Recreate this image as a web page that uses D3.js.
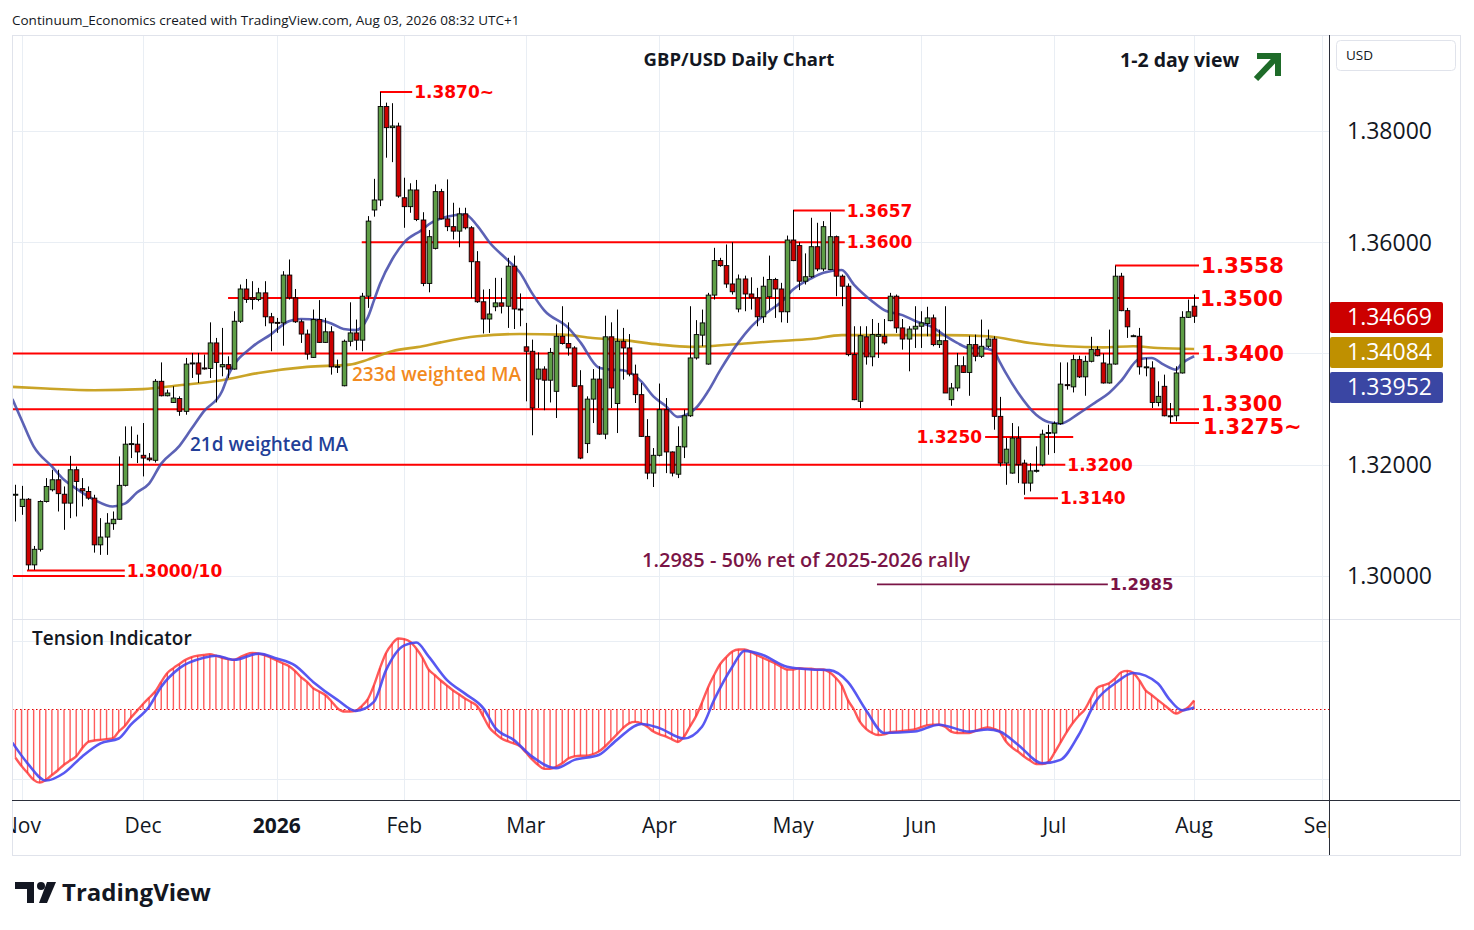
<!DOCTYPE html>
<html>
<head>
<meta charset="utf-8">
<script src="https://cdn.jsdelivr.net/npm/d3@7/dist/d3.min.js"></script>
<style>
  body { margin: 0; background: #fff; }
  svg text { font-family: "Open Sans", "Noto Sans", sans-serif; }
  svg text.level { font-family: "DejaVu Sans", sans-serif; font-weight: bold; }
</style>
</head>
<body>
<div id="chart"></div>
<script>
// GBP/USD daily candles, first bar = Fri 31 Oct 2025, last bar = Mon 3 Aug 2026
const openP = [1.3146,1.3125,1.3138,1.3020,1.3048,1.3134,1.3155,1.3173,1.3147,1.3131,1.3191,1.3157,1.3152,1.3140,1.3056,1.3070,1.3094,1.3102,1.3163,1.3237,
  1.3237,1.3217,1.3212,1.3208,1.3350,1.3324,1.3312,1.3319,1.3296,1.3382,1.3383,1.3374,1.3373,1.3419,1.3376,1.3380,1.3372,1.3458,1.3516,1.3500,
  1.3497,1.3509,1.3466,1.3456,1.3455,1.3541,1.3500,1.3457,1.3435,1.3393,1.3461,1.3420,1.3439,1.3376,1.3342,1.3422,1.3437,1.3424,1.3503,1.3658,
  1.3676,1.3844,1.3806,1.3809,1.3680,1.3664,1.3694,1.3640,1.3526,1.3589,1.3691,1.3642,1.3628,1.3620,1.3651,1.3626,1.3565,1.3493,1.3462,1.3484,
  1.3491,1.3485,1.3557,1.3480,1.3412,1.3404,1.3354,1.3372,1.3352,1.3332,1.3431,1.3418,1.3410,1.3342,1.3238,1.3318,1.3354,1.3255,1.3430,1.3310,
  1.3422,1.3410,1.3363,1.3326,1.3251,1.3185,1.3217,1.3299,1.3223,1.3183,1.3232,1.3288,1.3392,1.3433,1.3381,1.3505,1.3567,1.3558,1.3525,1.3480,
  1.3534,1.3507,1.3500,1.3466,1.3502,1.3533,1.3516,1.3475,1.3604,1.3594,1.3530,1.3538,1.3592,1.3552,1.3551,1.3610,1.3539,1.3521,1.3398,1.3314,
  1.3430,1.3394,1.3431,1.3431,1.3459,1.3503,1.3446,1.3426,1.3444,1.3449,1.3454,1.3464,1.3416,1.3423,1.3317,1.3338,1.3378,1.3366,1.3416,1.3395,
  1.3413,1.3426,1.3287,1.3203,1.3185,1.3248,1.3203,1.3167,1.3189,1.3200,1.3257,1.3257,1.3274,1.3344,1.3340,1.3389,1.3358,1.3386,1.3407,1.3383,
  1.3347,1.3381,1.3539,1.3477,1.3432,1.3431,1.3376,1.3374,1.3312,1.3341,1.3288,1.3288,1.3365,1.3465,1.3485];
const highP = [1.3164,1.3162,1.3140,1.3054,1.3136,1.3176,1.3191,1.3191,1.3161,1.3216,1.3197,1.3176,1.3161,1.3146,1.3104,1.3113,1.3116,1.3215,1.3269,1.3269,
  1.3254,1.3275,1.3221,1.3354,1.3384,1.3335,1.3341,1.3323,1.3392,1.3401,1.3401,1.3398,1.3456,1.3428,1.3446,1.3395,1.3476,1.3524,1.3534,1.3530,
  1.3518,1.3530,1.3473,1.3464,1.3548,1.3569,1.3516,1.3461,1.3443,1.3479,1.3496,1.3464,1.3449,1.3389,1.3425,1.3492,1.3461,1.3509,1.3647,1.3714,
  1.3870,1.3851,1.3850,1.3815,1.3716,1.3706,1.3712,1.3654,1.3622,1.3704,1.3696,1.3713,1.3671,1.3662,1.3662,1.3629,1.3584,1.3515,1.3516,1.3536,
  1.3536,1.3572,1.3576,1.3508,1.3455,1.3425,1.3402,1.3377,1.3410,1.3452,1.3485,1.3456,1.3413,1.3370,1.3323,1.3372,1.3377,1.3468,1.3456,1.3479,
  1.3446,1.3435,1.3380,1.3347,1.3282,1.3230,1.3346,1.3320,1.3224,1.3269,1.3299,1.3485,1.3460,1.3479,1.3509,1.3590,1.3572,1.3596,1.3600,1.3542,
  1.3540,1.3537,1.3518,1.3538,1.3576,1.3536,1.3527,1.3612,1.3658,1.3600,1.3580,1.3644,1.3635,1.3638,1.3654,1.3612,1.3542,1.3526,1.3449,1.3449,
  1.3449,1.3462,1.3455,1.3462,1.3509,1.3506,1.3462,1.3449,1.3485,1.3476,1.3484,1.3470,1.3443,1.3485,1.3347,1.3401,1.3395,1.3432,1.3434,1.3461,
  1.3443,1.3431,1.3322,1.3248,1.3275,1.3269,1.3209,1.3203,1.3233,1.3263,1.3272,1.3278,1.3384,1.3384,1.3398,1.3396,1.3396,1.3430,1.3413,1.3400,
  1.3443,1.3558,1.3545,1.3482,1.3434,1.3446,1.3392,1.3386,1.3350,1.3362,1.3311,1.3377,1.3476,1.3497,1.3506];
const lowP = [1.3098,1.3110,1.3011,1.3011,1.3044,1.3132,1.3152,1.3116,1.3083,1.3104,1.3107,1.3125,1.3137,1.3042,1.3038,1.3038,1.3083,1.3101,1.3161,1.3212,
  1.3203,1.3179,1.3206,1.3204,1.3323,1.3323,1.3311,1.3288,1.3290,1.3356,1.3347,1.3371,1.3356,1.3312,1.3359,1.3356,1.3371,1.3455,1.3491,1.3479,
  1.3494,1.3449,1.3404,1.3437,1.3414,1.3497,1.3455,1.3419,1.3389,1.3392,1.3419,1.3419,1.3362,1.3365,1.3341,1.3413,1.3406,1.3404,1.3482,1.3646,
  1.3665,1.3752,1.3744,1.3680,1.3626,1.3653,1.3638,1.3521,1.3510,1.3587,1.3641,1.3620,1.3605,1.3591,1.3623,1.3500,1.3491,1.3436,1.3437,1.3476,
  1.3472,1.3446,1.3444,1.3449,1.3314,1.3253,1.3302,1.3298,1.3312,1.3284,1.3416,1.3396,1.3340,1.3210,1.3221,1.3275,1.3254,1.3246,1.3302,1.3257,
  1.3353,1.3359,1.3311,1.3250,1.3174,1.3160,1.3215,1.3185,1.3179,1.3176,1.3212,1.3286,1.3389,1.3413,1.3380,1.3497,1.3556,1.3518,1.3506,1.3474,
  1.3476,1.3479,1.3449,1.3455,1.3478,1.3464,1.3456,1.3455,1.3566,1.3514,1.3524,1.3536,1.3548,1.3548,1.3550,1.3503,1.3485,1.3395,1.3316,1.3302,
  1.3380,1.3377,1.3392,1.3416,1.3458,1.3437,1.3407,1.3368,1.3410,1.3410,1.3431,1.3413,1.3410,1.3329,1.3306,1.3332,1.3365,1.3324,1.3386,1.3392,
  1.3410,1.3263,1.3197,1.3164,1.3184,1.3167,1.3146,1.3152,1.3186,1.3197,1.3218,1.3221,1.3272,1.3335,1.3330,1.3356,1.3324,1.3384,1.3395,1.3346,
  1.3346,1.3380,1.3476,1.3428,1.3430,1.3362,1.3359,1.3302,1.3305,1.3287,1.3275,1.3278,1.3364,1.3464,1.3455];
const closeP = [1.3147,1.3138,1.3020,1.3048,1.3134,1.3161,1.3173,1.3148,1.3131,1.3191,1.3170,1.3153,1.3140,1.3056,1.3070,1.3095,1.3102,1.3163,1.3237,1.3238,
  1.3223,1.3212,1.3209,1.3350,1.3324,1.3329,1.3320,1.3296,1.3381,1.3383,1.3363,1.3373,1.3419,1.3384,1.3380,1.3372,1.3458,1.3516,1.3497,1.3497,
  1.3509,1.3466,1.3455,1.3455,1.3541,1.3500,1.3457,1.3435,1.3399,1.3461,1.3420,1.3439,1.3376,1.3377,1.3422,1.3437,1.3424,1.3503,1.3638,1.3676,
  1.3844,1.3806,1.3809,1.3683,1.3664,1.3694,1.3641,1.3526,1.3610,1.3691,1.3642,1.3628,1.3620,1.3651,1.3626,1.3565,1.3493,1.3462,1.3471,1.3491,
  1.3485,1.3557,1.3480,1.3479,1.3404,1.3302,1.3372,1.3352,1.3402,1.3431,1.3418,1.3410,1.3341,1.3212,1.3318,1.3354,1.3255,1.3430,1.3338,1.3422,
  1.3410,1.3363,1.3326,1.3251,1.3185,1.3217,1.3299,1.3223,1.3185,1.3233,1.3288,1.3392,1.3434,1.3455,1.3505,1.3567,1.3558,1.3525,1.3511,1.3534,
  1.3507,1.3500,1.3466,1.3521,1.3533,1.3516,1.3475,1.3604,1.3567,1.3530,1.3538,1.3592,1.3552,1.3628,1.3610,1.3539,1.3521,1.3398,1.3317,1.3432,
  1.3394,1.3434,1.3434,1.3419,1.3503,1.3446,1.3426,1.3444,1.3449,1.3455,1.3464,1.3416,1.3423,1.3329,1.3338,1.3378,1.3366,1.3416,1.3395,1.3413,
  1.3426,1.3287,1.3203,1.3228,1.3248,1.3200,1.3167,1.3189,1.3190,1.3255,1.3258,1.3274,1.3345,1.3343,1.3389,1.3358,1.3386,1.3407,1.3396,1.3347,
  1.3381,1.3539,1.3477,1.3448,1.3432,1.3376,1.3376,1.3312,1.3323,1.3288,1.3288,1.3365,1.3465,1.3475,1.3467];

// moving averages at bar numbers
const wma21Bars = [-0.5,1,3,6,8,10,13,16,18,20,22,24,27,29,31,34,35,39,42,45,47,50,52,54,56,58,59,60,62,64,67,68,71,74,76,78,81,83,85,87,91,93,96,98,100,103,105,107,109,112,114,116,119,121,124,126,128,131,133,136,138,141,143,146,148,151,153,155,157,159,161,162,163,165,168,170,172,175,178,180,182,185,187,189,191,192,194];
const wma21 = [1.3318,1.3281,1.3233,1.3197,1.3173,1.3157,1.3137,1.3125,1.3130,1.3150,1.3166,1.3202,1.3234,1.3265,1.3296,1.3332,1.3360,1.3412,1.3434,1.3458,1.3462,1.3460,1.3454,1.3444,1.3442,1.3465,1.3495,1.3525,1.3569,1.3600,1.3623,1.3632,1.3646,1.3650,1.3630,1.3600,1.3568,1.3546,1.3509,1.3478,1.3446,1.3420,1.3375,1.3371,1.3370,1.3350,1.3323,1.3306,1.3286,1.3302,1.3332,1.3370,1.3420,1.3447,1.3476,1.3492,1.3515,1.3535,1.3545,1.3550,1.3524,1.3494,1.3478,1.3469,1.3459,1.3447,1.3432,1.3419,1.3410,1.3410,1.3405,1.3385,1.3365,1.3330,1.3290,1.3277,1.3274,1.3292,1.3314,1.3329,1.3351,1.3390,1.3392,1.3380,1.3371,1.3382,1.3395];
const wma233Bars = [-0.5,5,13,21,27,34,40,48,55,58,62,67,70,76,83,90,95,100,106,111,114,120,125,131,136,144,153,160,167,173,179,184,188,194];
const wma233 = [1.3340,1.3337,1.3334,1.3336,1.3343,1.3352,1.3365,1.3376,1.3380,1.3389,1.3404,1.3413,1.3420,1.3431,1.3435,1.3434,1.3428,1.3424,1.3416,1.3412,1.3413,1.3418,1.3422,1.3426,1.3433,1.3433,1.3433,1.3431,1.3419,1.3413,1.3411,1.3413,1.3410,1.3408];

// tension indicator: fast line (one value per bar) and slow line
const tensionFast = [-0.70,-0.82,-0.92,-1.02,-1.06,-1.02,-0.95,-0.88,-0.80,-0.74,-0.68,-0.56,-0.47,-0.45,-0.44,-0.43,-0.42,-0.32,-0.24,-0.12,
  -0.02,0.08,0.17,0.26,0.40,0.53,0.60,0.66,0.72,0.76,0.78,0.79,0.80,0.78,0.75,0.73,0.72,0.76,0.80,0.82,
  0.81,0.79,0.75,0.71,0.67,0.63,0.56,0.47,0.40,0.31,0.26,0.21,0.12,0.02,-0.03,-0.03,-0.02,0.05,0.15,0.35,
  0.60,0.82,0.95,1.03,1.02,0.98,0.88,0.75,0.58,0.50,0.42,0.35,0.28,0.22,0.16,0.11,0.05,-0.10,-0.26,-0.35,
  -0.42,-0.46,-0.49,-0.53,-0.62,-0.72,-0.80,-0.86,-0.86,-0.83,-0.78,-0.71,-0.68,-0.67,-0.67,-0.65,-0.61,-0.54,-0.45,-0.36,
  -0.27,-0.20,-0.18,-0.20,-0.25,-0.32,-0.36,-0.39,-0.43,-0.47,-0.40,-0.25,-0.10,0.10,0.32,0.50,0.66,0.76,0.84,0.87,
  0.87,0.84,0.79,0.75,0.71,0.67,0.62,0.58,0.58,0.60,0.59,0.59,0.58,0.58,0.54,0.46,0.35,0.14,0.00,-0.18,
  -0.28,-0.34,-0.37,-0.36,-0.33,-0.32,-0.31,-0.30,-0.29,-0.26,-0.23,-0.22,-0.22,-0.25,-0.32,-0.34,-0.34,-0.34,-0.31,-0.28,
  -0.26,-0.28,-0.32,-0.46,-0.55,-0.61,-0.68,-0.74,-0.79,-0.79,-0.76,-0.63,-0.48,-0.33,-0.20,-0.09,0.00,0.16,0.31,0.35,
  0.38,0.45,0.54,0.56,0.53,0.42,0.28,0.21,0.14,0.07,0.00,-0.06,-0.02,0.03,0.13];
const tensionSlowBars = [-0.5,2,5,8,11,14,17,19,22,24,27,31,33,36,40,43,46,49,53,56,59,61,64,66,68,71,74,77,79,82,85,89,92,96,99,103,106,110,113,115,118,120,123,127,131,134,137,140,143,148,152,157,160,162,165,169,172,175,178,181,184,188,190,192,194];
const tensionSlow = [-0.48,-0.78,-1.03,-0.92,-0.68,-0.49,-0.42,-0.22,0.04,0.33,0.60,0.75,0.78,0.72,0.81,0.74,0.64,0.40,0.14,-0.02,0.11,0.57,0.93,0.97,0.77,0.43,0.23,0.02,-0.27,-0.44,-0.68,-0.85,-0.73,-0.66,-0.44,-0.21,-0.27,-0.42,-0.25,0.14,0.62,0.85,0.79,0.62,0.58,0.57,0.40,-0.01,-0.34,-0.32,-0.22,-0.32,-0.29,-0.32,-0.51,-0.78,-0.73,-0.37,0.14,0.38,0.53,0.38,0.14,-0.01,0.03];

// support / resistance annotations
const levelValues = [1.3870, 1.3657, 1.3600, 1.3558, 1.3500, 1.3400, 1.3300, 1.3275, 1.3250, 1.3200, 1.3140, 1.3010, 1.3000, 1.2985];
const levelLabels = ["1.3870~", "1.3657", "1.3600", "1.3558", "1.3500", "1.3400", "1.3300", "1.3275~", "1.3250", "1.3200", "1.3140", "1.3000/10", "", "1.2985"];

const priceTicks = [1.30, 1.32, 1.34, 1.36, 1.38];
const lastValues = [1.34669, 1.34084, 1.33952];

window.addEventListener('load', drawChart);

function drawChart() {
  const W = 1474, H = 930;
  const left = 12, right = 1329, top = 35, paneSplit = 619, axisTop = 800, bottom = 855, frameRight = 1460;

  // trading calendar (weekdays, no Christmas / New Year bar)
  const days = [];
  for (let d = new Date(Date.UTC(2025, 9, 31)); d <= new Date(Date.UTC(2026, 8, 1)); d.setUTCDate(d.getUTCDate() + 1)) {
    const wd = d.getUTCDay();
    const md = d.toISOString().slice(5, 10);
    if (wd === 0 || wd === 6 || md === "12-25" || md === "01-01") continue;
    days.push(new Date(d));
  }

  const x = d3.scaleLinear().domain([-0.564, 216.2]).range([left, right]);
  const y = d3.scaleLinear().domain([1.30, 1.38]).range([576, 131]);
  const yt = d3.scaleLinear().domain([-1, 1]).range([778.5, 640.5]);

  const svg = d3.select("#chart").append("svg")
      .attr("width", W)
      .attr("height", H)
      .attr("viewBox", [0, 0, W, H]);

  const defs = svg.append("defs");
  defs.append("clipPath").attr("id", "clipPrice")
    .append("rect").attr("x", left).attr("y", top).attr("width", right - left).attr("height", paneSplit - top);
  defs.append("clipPath").attr("id", "clipTension")
    .append("rect").attr("x", left).attr("y", paneSplit).attr("width", right - left).attr("height", axisTop - paneSplit);
  defs.append("clipPath").attr("id", "clipTime")
    .append("rect").attr("x", left + 1).attr("y", axisTop).attr("width", right - left - 1).attr("height", bottom - axisTop);

  svg.append("text")
      .attr("x", 12).attr("y", 25)
      .attr("font-size", 13.5).attr("fill", "#131722")
      .text("Continuum_Economics created with TradingView.com, Aug 03, 2026 08:32 UTC+1");

  // month ticks
  const monthNames = ["2026", "Feb", "Mar", "Apr", "May", "Jun", "Jul", "Aug", "Sep", "Oct", "Nov", "Dec"];
  const monthTicks = [];
  days.forEach((d, i) => {
    if (i > 0 && d.getUTCMonth() !== days[i - 1].getUTCMonth()) monthTicks.push({ i: i, m: d.getUTCMonth() });
  });

  // grid
  const grid = svg.append("g").attr("stroke", "#e9eef4").attr("stroke-width", 1);
  grid.selectAll(".vg").data(monthTicks).join("line")
      .attr("x1", d => Math.round(x(d.i)) + 0.5).attr("x2", d => Math.round(x(d.i)) + 0.5)
      .attr("y1", top).attr("y2", axisTop)
      .attr("clip-path", "url(#clipTension)");
  grid.selectAll(".vg2").data(monthTicks).join("line")
      .attr("x1", d => Math.round(x(d.i)) + 0.5).attr("x2", d => Math.round(x(d.i)) + 0.5)
      .attr("y1", top).attr("y2", paneSplit)
      .attr("clip-path", "url(#clipPrice)");
  grid.selectAll(".hg").data(priceTicks).join("line")
      .attr("x1", left).attr("x2", right)
      .attr("y1", d => Math.round(y(d)) + 0.5).attr("y2", d => Math.round(y(d)) + 0.5);
  grid.selectAll(".tg").data([-1, 1]).join("line")
      .attr("x1", left).attr("x2", right)
      .attr("y1", d => Math.round(yt(d)) + 0.5).attr("y2", d => Math.round(yt(d)) + 0.5);

  // ---------- price pane ----------
  const price = svg.append("g").attr("clip-path", "url(#clipPrice)");

  // red levels
  const levelLayout = [
    { from: 60.0, to: 65.3, size: 17, side: "right", color: "#ff0000" },
    { from: 128, to: 136.5, size: 17, side: "right", color: "#ff0000" },
    { from: 57.0, to: 136.5, size: 17, side: "right", color: "#ff0000" },
    { from: 181, to: 194.8, size: 21.5, side: "right", color: "#ff0000" },
    { from: 35, to: 194.8, size: 21.5, side: "right", color: "#ff0000", dx: -1 },
    { from: -0.6, to: 194.8, size: 21.5, side: "right", color: "#ff0000" },
    { from: -0.6, to: 194.8, size: 21, side: "right", color: "#ff0000", dy: -6 },
    { from: 190, to: 194.8, size: 21, side: "right", color: "#ff0000", dx: 2, dy: 3 },
    { from: 159.6, to: 174.1, size: 17, side: "left", color: "#ff0000" },
    { from: -0.6, to: 172.8, size: 17, side: "right", color: "#ff0000" },
    { from: 166, to: 171.6, size: 17, side: "right", color: "#ff0000" },
    { from: 1.9, to: 18.0, size: 17, side: "right", color: "#ff0000" },
    { from: -0.6, to: 18.0, size: 17, side: "right", color: "#ff0000" },
    { from: 141.8, to: 179.8, size: 16.5, side: "right", color: "#7a1446" }
  ];
  const levels = levelValues.map((v, i) => Object.assign({ value: v, label: levelLabels[i] }, levelLayout[i]));

  price.append("g").selectAll("line").data(levels).join("line")
      .attr("x1", d => x(d.from)).attr("x2", d => x(d.to))
      .attr("y1", d => y(d.value)).attr("y2", d => y(d.value))
      .attr("stroke", d => d.color)
      .attr("stroke-width", d => d.color === "#ff0000" ? 2 : 1.6);

  // moving averages
  const maLine = d3.line().x(d => x(d[0])).y(d => y(d[1])).curve(d3.curveMonotoneX);
  price.append("path")
      .attr("d", maLine(d3.zip(wma233Bars, wma233)))
      .attr("fill", "none").attr("stroke", "#c49a10").attr("stroke-width", 2.6).attr("stroke-opacity", 0.9);
  price.append("path")
      .attr("d", maLine(d3.zip(wma21Bars, wma21)))
      .attr("fill", "none").attr("stroke", "#3f47a8").attr("stroke-width", 2.6).attr("stroke-opacity", 0.85);

  // candles
  const candles = closeP.map((c, i) => ({ i: i, o: openP[i], h: highP[i], l: lowP[i], c: c }));
  const cg = price.append("g");
  cg.selectAll("line").data(candles).join("line")
      .attr("x1", d => Math.round(x(d.i)) + 0.5).attr("x2", d => Math.round(x(d.i)) + 0.5)
      .attr("y1", d => y(d.h)).attr("y2", d => y(d.l))
      .attr("stroke", "#000").attr("stroke-width", 1);
  cg.selectAll("rect").data(candles).join("rect")
      .attr("x", d => Math.round(x(d.i)) + 0.5 - 2.3)
      .attr("width", 4.6)
      .attr("y", d => y(Math.max(d.o, d.c)))
      .attr("height", d => Math.max(1, Math.abs(y(d.o) - y(d.c))))
      .attr("fill", d => d.c >= d.o ? "#5e9e46" : "#cc0000")
      .attr("stroke", "#000").attr("stroke-width", 0.9);

  // level labels
  price.append("g").selectAll("text").data(levels.filter(d => d.label)).join("text")
      .attr("class", "level")
      .attr("x", d => d.side === "right" ? x(d.to) + 2 + (d.dx || 0) : x(d.from) - 3)
      .attr("y", d => y(d.value) + (d.dy || 0))
      .attr("dy", "0.36em")
      .attr("text-anchor", d => d.side === "right" ? "start" : "end")
      .attr("font-size", d => d.size)
      .attr("fill", d => d.color)
      .text(d => d.label);

  price.append("text")
      .attr("x", 806).attr("y", 560).attr("dy", "0.36em")
      .attr("text-anchor", "middle")
      .attr("font-size", 20).attr("font-weight", 600).attr("fill", "#7a1446")
      .text("1.2985 - 50% ret of 2025-2026 rally");

  price.append("text")
      .attr("x", 352).attr("y", 374).attr("dy", "0.36em")
      .attr("font-size", 19).attr("font-weight", 600).attr("fill", "#f28a1e")
      .text("233d weighted MA");
  price.append("text")
      .attr("x", 190).attr("y", 444).attr("dy", "0.36em")
      .attr("font-size", 19).attr("font-weight", 600).attr("fill", "#233f98")
      .text("21d weighted MA");

  svg.append("text")
      .attr("x", 739).attr("y", 59).attr("dy", "0.36em")
      .attr("text-anchor", "middle")
      .attr("font-size", 18.5).attr("font-weight", 700).attr("fill", "#131722")
      .text("GBP/USD Daily Chart");
  svg.append("text")
      .attr("x", 1120).attr("y", 60).attr("dy", "0.36em")
      .attr("font-size", 19.5).attr("font-weight", 700).attr("fill", "#131722")
      .text("1-2 day view");

  // green arrow
  const arrow = svg.append("g").attr("fill", "none").attr("stroke", "#1e6b29").attr("stroke-width", 6).attr("stroke-linejoin", "miter");
  arrow.append("path").attr("d", "M1256,79 L1276,58");
  arrow.append("path").attr("d", "M1257,56 L1278,56 L1278,76");

  // ---------- tension pane ----------
  const ten = svg.append("g").attr("clip-path", "url(#clipTension)");
  ten.append("line")
      .attr("x1", left).attr("x2", right)
      .attr("y1", yt(0)).attr("y2", yt(0))
      .attr("stroke", "#e00000").attr("stroke-width", 1.2).attr("stroke-dasharray", "1.5,2.5");
  ten.append("g").selectAll("line").data(tensionFast).join("line")
      .attr("x1", (d, i) => x(i)).attr("x2", (d, i) => x(i))
      .attr("y1", yt(0)).attr("y2", d => yt(d))
      .attr("stroke", "#ff4040").attr("stroke-opacity", 0.85).attr("stroke-width", 1.4);
  ten.append("path")
      .attr("d", d3.line().x((d, i) => x(i)).y(d => yt(d)).curve(d3.curveMonotoneX)(tensionFast))
      .attr("fill", "none").attr("stroke", "#ff3030").attr("stroke-opacity", 0.8).attr("stroke-width", 2.4);
  ten.append("path")
      .attr("d", d3.line().x(d => x(d[0])).y(d => yt(d[1])).curve(d3.curveMonotoneX)(d3.zip(tensionSlowBars, tensionSlow)))
      .attr("fill", "none").attr("stroke", "#4646f0").attr("stroke-opacity", 0.9).attr("stroke-width", 2.6);
  svg.append("text")
      .attr("x", 32).attr("y", 638).attr("dy", "0.36em")
      .attr("font-size", 19).attr("font-weight", 600).attr("fill", "#131722")
      .text("Tension Indicator");

  // ---------- frame ----------
  const frame = svg.append("g").attr("fill", "none");
  frame.append("rect")
      .attr("x", left + 0.5).attr("y", top + 0.5)
      .attr("width", frameRight - left).attr("height", bottom - top)
      .attr("stroke", "#e0e3eb");
  frame.append("line")
      .attr("x1", left).attr("x2", frameRight).attr("y1", paneSplit + 0.5).attr("y2", paneSplit + 0.5)
      .attr("stroke", "#e0e3eb");
  frame.append("line")
      .attr("x1", left).attr("x2", frameRight).attr("y1", axisTop + 0.5).attr("y2", axisTop + 0.5)
      .attr("stroke", "#2a2e39");
  frame.append("line")
      .attr("x1", right + 0.5).attr("x2", right + 0.5).attr("y1", top).attr("y2", bottom)
      .attr("stroke", "#2a2e39");

  // time axis
  const timeAxis = svg.append("g").attr("clip-path", "url(#clipTime)");
  timeAxis.selectAll("text").data(monthTicks).join("text")
      .attr("x", d => x(d.i)).attr("y", 825).attr("dy", "0.36em")
      .attr("text-anchor", "middle")
      .attr("font-size", 21)
      .attr("font-weight", d => d.m === 0 ? 700 : 400)
      .attr("fill", "#131722")
      .text(d => monthNames[d.m]);

  // price axis
  const axis = svg.append("g");
  axis.selectAll("text").data(priceTicks).join("text")
      .attr("x", 1347).attr("y", d => y(d)).attr("dy", "0.36em")
      .attr("font-size", 23).attr("fill", "#131722")
      .text(d => d.toFixed(5));
  axis.append("rect")
      .attr("x", 1336.5).attr("y", 40.5).attr("width", 119).attr("height", 30).attr("rx", 4)
      .attr("fill", "#fff").attr("stroke", "#e0e3eb");
  axis.append("text")
      .attr("x", 1346).attr("y", 55).attr("dy", "0.36em")
      .attr("font-size", 13.5).attr("fill", "#131722")
      .text("USD");

  const badgeColors = ["#cc0000", "#bf9000", "#3a46a3"];
  const badgeY = [317, 352, 387];
  const badges = axis.append("g").selectAll("g").data(lastValues).join("g")
      .attr("transform", (d, i) => `translate(1330,${badgeY[i]})`);
  badges.append("rect")
      .attr("x", 0).attr("y", -15).attr("width", 113).attr("height", 31).attr("rx", 2)
      .attr("fill", (d, i) => badgeColors[i]);
  badges.append("text")
      .attr("x", 17).attr("y", 0).attr("dy", "0.36em")
      .attr("font-size", 23).attr("fill", "#fff")
      .text(d => d.toFixed(5));

  // TradingView logo
  const logo = svg.append("g").attr("fill", "#131722");
  logo.append("path").attr("d", "M15,882 H34 V903 H27 V889 H15 Z");
  logo.append("circle").attr("cx", 41).attr("cy", 886).attr("r", 4);
  logo.append("path").attr("d", "M47,882 H56 L47,903 H39 Z");
  logo.append("text")
      .attr("x", 62).attr("y", 892).attr("dy", "0.36em")
      .attr("font-size", 24).attr("font-weight", 700)
      .text("TradingView");
}
</script>
</body>
</html>
